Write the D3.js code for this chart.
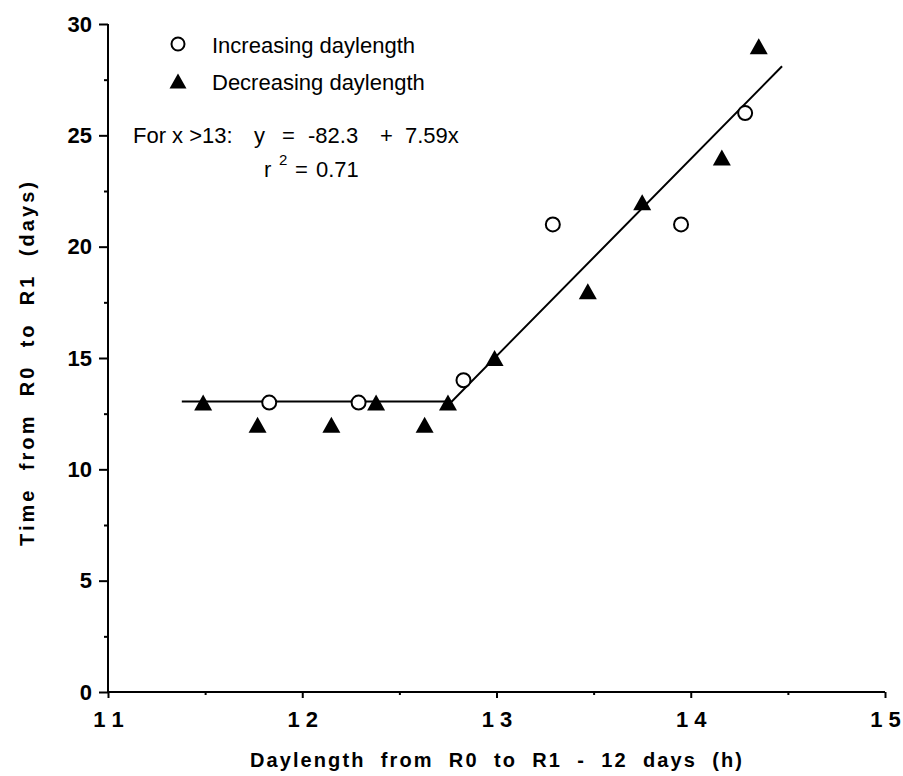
<!DOCTYPE html>
<html>
<head>
<meta charset="utf-8">
<script src="https://cdn.jsdelivr.net/npm/d3@7"></script>
<style>
  html, body { margin: 0; padding: 0; background: #fff; }
  svg { display: block; font-family: "Liberation Sans", Arial, Helvetica, sans-serif; }
</style>
</head>
<body>
<svg id="chart" width="903" height="776"></svg>
<script>
// ---- data ----
const increasingX = [11.83, 12.29, 12.83, 13.29, 13.95, 14.28];
const increasingY = [13, 13, 14, 21, 21, 26];
const decreasingX = [11.49, 11.77, 12.15, 12.38, 12.63, 12.75, 12.99, 13.47, 13.75, 14.16, 14.35];
const decreasingY = [13, 12, 12, 13, 12, 13, 15, 18, 22, 24, 29];
const fitX = [11.38, 12.77, 14.47];
const fitY = [13.05, 13.05, 28.1];
const xTicks = [11, 12, 13, 14, 15];
const xMinorTicks = [11.5, 12.5, 13.5, 14.5];
const yTicks = [0, 5, 10, 15, 20, 25, 30];
const yMinorTicks = [2.5, 7.5, 12.5, 17.5, 22.5, 27.5];
const legendLabels = ["Increasing daylength", "Decreasing daylength"];
const xTitle = "Daylength  from  R0  to  R1  -  12  days  (h)";
const yTitle = "Time  from  R0  to  R1  (days)";
const eqParts = ["For x >13:", "y", "=", "-82.3", "+", "7.59x"];
const eqOffsets = [0, 121, 149, 175, 247, 272];
const r2Parts = ["r", "2", "=", "0.71"];
const r2Offsets = [0, 15, 31, 52];

// ---- layout ----
const svg = d3.select("#chart");
const x = d3.scaleLinear().domain([11, 15]).range([108, 885]);
const y = d3.scaleLinear().domain([0, 30]).range([692, 24]);

// axes
const gx = svg.append("g").attr("transform", `translate(0,${y(0)})`)
  .call(d3.axisBottom(x).tickValues(xTicks).tickSize(6).tickPadding(13)
    .tickFormat(d => String(d).split("").join(" ")));
svg.append("g").attr("transform", `translate(0,${y(0)})`)
  .call(d3.axisBottom(x).tickValues(xMinorTicks).tickSize(3).tickFormat(""))
  .call(g => g.select(".domain").remove());
const gy = svg.append("g").attr("transform", `translate(${x(11)},0)`)
  .call(d3.axisLeft(y).tickValues(yTicks).tickSize(9).tickPadding(7));
svg.append("g").attr("transform", `translate(${x(11)},0)`)
  .call(d3.axisLeft(y).tickValues(yMinorTicks).tickSize(4).tickFormat(""))
  .call(g => g.select(".domain").remove());

svg.selectAll(".domain").attr("stroke", "#000").attr("stroke-width", 2);
svg.selectAll(".tick line").attr("stroke", "#000").attr("stroke-width", 2);
svg.selectAll(".tick text").attr("fill", "#000")
  .style("font-size", "22px").style("font-weight", "bold");
gx.selectAll(".tick text").attr("xml:space", "preserve").style("white-space", "pre");
gx.select(".domain").attr("d", `M${x(11)},0H${x(15)}`);
gy.select(".domain").attr("d", `M0,${y(30)}V${y(0)}`);

// titles
svg.append("text").attr("x", 250).attr("y", 767)
  .attr("textLength", 492).attr("lengthAdjust", "spacing")
  .style("font-size", "20px").style("font-weight", "bold").style("white-space", "pre")
  .attr("xml:space", "preserve").text(xTitle);
svg.append("text").attr("transform", "translate(34,546) rotate(-90)")
  .attr("textLength", 364).attr("lengthAdjust", "spacing")
  .style("font-size", "20px").style("font-weight", "bold").style("white-space", "pre")
  .attr("xml:space", "preserve").text(yTitle);

// fit line
const fitData = fitX.map((v, i) => ({ x: v, y: fitY[i] }));
svg.append("path").datum(fitData)
  .attr("d", d3.line().x(d => x(d.x)).y(d => y(d.y)))
  .attr("fill", "none").attr("stroke", "#000").attr("stroke-width", 2);

// markers
const triPath = (w, h) => `M0,${-h / 2}L${w / 2},${h / 2}L${-w / 2},${h / 2}Z`;
const incData = increasingX.map((v, i) => ({ x: v, y: increasingY[i] }));
const decData = decreasingX.map((v, i) => ({ x: v, y: decreasingY[i] }));
svg.append("g").selectAll("circle").data(incData).join("circle")
  .attr("cx", d => x(d.x)).attr("cy", d => y(d.y)).attr("r", 7)
  .attr("fill", "#fff").attr("stroke", "#000").attr("stroke-width", 2);
svg.append("g").selectAll("path").data(decData).join("path")
  .attr("transform", d => `translate(${x(d.x)},${y(d.y)})`)
  .attr("d", triPath(18, 16)).attr("fill", "#000");

// legend
svg.append("circle").attr("cx", 178).attr("cy", 44).attr("r", 6.5)
  .attr("fill", "#fff").attr("stroke", "#000").attr("stroke-width", 2);
svg.append("path").attr("transform", "translate(178,81)").attr("d", triPath(17, 15)).attr("fill", "#000");
svg.selectAll(".leg").data(legendLabels).join("text")
  .attr("x", 212).attr("y", (d, i) => 53 + i * 37)
  .style("font-size", "22px").text(d => d);

// equation
svg.selectAll(".eq").data(eqParts).join("text")
  .attr("x", (d, i) => 133 + eqOffsets[i]).attr("y", 143)
  .style("font-size", "22px").text(d => d);
svg.selectAll(".r2").data(r2Parts).join("text")
  .attr("x", (d, i) => 264 + r2Offsets[i]).attr("y", (d, i) => i === 1 ? 165 : 177)
  .style("font-size", (d, i) => i === 1 ? "15px" : "22px").text(d => d);
</script>
</body>
</html>
